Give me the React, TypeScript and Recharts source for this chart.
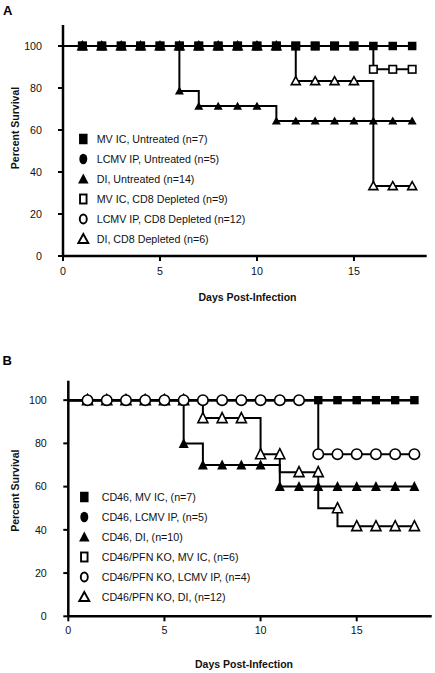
import { ComposedChart, Line, Scatter, XAxis, YAxis } from "recharts";

const FONT = '"Liberation Sans", Arial, sans-serif';

// observation days that carry a symbol
const days = [1, 2, 3, 4, 5, 6, 7, 8, 9, 10, 11, 12, 13, 14, 15, 16, 17, 18];
const xTicks = [0, 5, 10, 15];
const yTicks = [0, 20, 40, 60, 80, 100];

// ---- Panel A: percent survival at each day (symbols) ----
const aMvIcUntreated = [100, 100, 100, 100, 100, 100, 100, 100, 100, 100, 100, 100, 100, 100, 100, 100, 100, 100];
const aLcmvUntreated = [100, 100, 100, 100, 100, 100, 100, 100, 100, 100, 100, 100, 100, 100, 100, 100, 100, 100];
const aDiUntreated = [100, 100, 100, 100, 100, 78.6, 71.4, 71.4, 71.4, 71.4, 64.3, 64.3, 64.3, 64.3, 64.3, 64.3, 64.3, 64.3];
const aMvIcCd8 = [100, 100, 100, 100, 100, 100, 100, 100, 100, 100, 100, 100, 100, 100, 100, 88.9, 88.9, 88.9];
const aLcmvCd8 = [100, 100, 100, 100, 100, 100, 100, 100, 100, 100, 100, 100, 100, 100, 100, 100, 100, 100];
const aDiCd8 = [100, 100, 100, 100, 100, 100, 100, 100, 100, 100, 100, 83.3, 83.3, 83.3, 83.3, 33.3, 33.3, 33.3];

// Panel A: Kaplan-Meier breakpoints (day the curve steps to the value)
const aMvIcUntreatedStepDays = [0, 18];
const aMvIcUntreatedStepValues = [100, 100];
const aLcmvUntreatedStepDays = [0, 18];
const aLcmvUntreatedStepValues = [100, 100];
const aDiUntreatedStepDays = [0, 6, 7, 11, 18];
const aDiUntreatedStepValues = [100, 78.6, 71.4, 64.3, 64.3];
const aMvIcCd8StepDays = [0, 16, 18];
const aMvIcCd8StepValues = [100, 88.9, 88.9];
const aLcmvCd8StepDays = [0, 18];
const aLcmvCd8StepValues = [100, 100];
const aDiCd8StepDays = [0, 12, 16, 18];
const aDiCd8StepValues = [100, 83.3, 33.3, 33.3];

// ---- Panel B ----
const bMvIc = [100, 100, 100, 100, 100, 100, 100, 100, 100, 100, 100, 100, 100, 100, 100, 100, 100, 100];
const bLcmv = [100, 100, 100, 100, 100, 100, 100, 100, 100, 100, 100, 100, 100, 100, 100, 100, 100, 100];
const bDi = [100, 100, 100, 100, 100, 80, 70, 70, 70, 70, 60, 60, 60, 60, 60, 60, 60, 60];
const bKoMvIc = [100, 100, 100, 100, 100, 100, 100, 100, 100, 100, 100, 100, 100, 100, 100, 100, 100, 100];
const bKoLcmv = [100, 100, 100, 100, 100, 100, 100, 100, 100, 100, 100, 100, 75, 75, 75, 75, 75, 75];
const bKoDi = [100, 100, 100, 100, 100, 100, 91.7, 91.7, 91.7, 75, 75, 66.7, 66.7, 50, 41.7, 41.7, 41.7, 41.7];

const bMvIcStepDays = [0, 18];
const bMvIcStepValues = [100, 100];
const bLcmvStepDays = [0, 18];
const bLcmvStepValues = [100, 100];
const bDiStepDays = [0, 6, 7, 11, 18];
const bDiStepValues = [100, 80, 70, 60, 60];
const bKoMvIcStepDays = [0, 18];
const bKoMvIcStepValues = [100, 100];
const bKoLcmvStepDays = [0, 13, 18];
const bKoLcmvStepValues = [100, 75, 75];
const bKoDiStepDays = [0, 7, 10, 11, 13, 14, 18];
const bKoDiStepValues = [100, 91.7, 75, 66.7, 50, 41.7, 41.7];

type Kind = "square" | "circle" | "triangle";

interface Series {
  name: string;
  kind: Kind;
  filled: boolean;
  marks: number[];
  stepDays: number[];
  stepValues: number[];
}

// listed in legend order
const seriesA: Series[] = [
  { name: "MV IC, Untreated (n=7)", kind: "square", filled: true, marks: aMvIcUntreated, stepDays: aMvIcUntreatedStepDays, stepValues: aMvIcUntreatedStepValues },
  { name: "LCMV IP, Untreated (n=5)", kind: "circle", filled: true, marks: aLcmvUntreated, stepDays: aLcmvUntreatedStepDays, stepValues: aLcmvUntreatedStepValues },
  { name: "DI, Untreated (n=14)", kind: "triangle", filled: true, marks: aDiUntreated, stepDays: aDiUntreatedStepDays, stepValues: aDiUntreatedStepValues },
  { name: "MV IC, CD8 Depleted (n=9)", kind: "square", filled: false, marks: aMvIcCd8, stepDays: aMvIcCd8StepDays, stepValues: aMvIcCd8StepValues },
  { name: "LCMV IP, CD8 Depleted (n=12)", kind: "circle", filled: false, marks: aLcmvCd8, stepDays: aLcmvCd8StepDays, stepValues: aLcmvCd8StepValues },
  { name: "DI, CD8 Depleted (n=6)", kind: "triangle", filled: false, marks: aDiCd8, stepDays: aDiCd8StepDays, stepValues: aDiCd8StepValues },
];

const seriesB: Series[] = [
  { name: "CD46, MV IC, (n=7)", kind: "square", filled: true, marks: bMvIc, stepDays: bMvIcStepDays, stepValues: bMvIcStepValues },
  { name: "CD46, LCMV IP, (n=5)", kind: "circle", filled: true, marks: bLcmv, stepDays: bLcmvStepDays, stepValues: bLcmvStepValues },
  { name: "CD46, DI, (n=10)", kind: "triangle", filled: true, marks: bDi, stepDays: bDiStepDays, stepValues: bDiStepValues },
  { name: "CD46/PFN KO, MV IC, (n=6)", kind: "square", filled: false, marks: bKoMvIc, stepDays: bKoMvIcStepDays, stepValues: bKoMvIcStepValues },
  { name: "CD46/PFN KO, LCMV IP, (n=4)", kind: "circle", filled: false, marks: bKoLcmv, stepDays: bKoLcmvStepDays, stepValues: bKoLcmvStepValues },
  { name: "CD46/PFN KO, DI, (n=12)", kind: "triangle", filled: false, marks: bKoDi, stepDays: bKoDiStepDays, stepValues: bKoDiStepValues },
];

// symbol stacking order (first drawn at the bottom)
const drawOrderA = [4, 1, 3, 5, 2, 0];
const drawOrderB = [1, 3, 0, 2, 5, 4];

const toPoints = (xs: number[], ys: number[]) => xs.map((x, i) => ({ x, y: ys[i] }));

// symbol width/height in the plot, keyed by `${kind}-${filled}`
type Sizes = Record<string, [number, number]>;

function marker(kind: Kind, filled: boolean, cx: number, cy: number, w: number, h: number, sw: number) {
  const fill = filled ? "#000" : "#fff";
  const stroke = "#000";
  if (kind === "square") {
    return <rect x={cx - w / 2} y={cy - h / 2} width={w} height={h} fill={fill} stroke={stroke} strokeWidth={filled ? 0 : sw} />;
  }
  if (kind === "circle") {
    return <ellipse cx={cx} cy={cy} rx={w / 2} ry={h / 2} fill={fill} stroke={stroke} strokeWidth={filled ? 0 : sw} />;
  }
  const pts = `${cx},${cy - h * 0.55} ${cx + w / 2},${cy + h * 0.45} ${cx - w / 2},${cy + h * 0.45}`;
  return <polygon points={pts} fill={fill} stroke={stroke} strokeWidth={filled ? 0 : sw} strokeLinejoin="miter" />;
}

// all symbols of a panel in one table, in stacking order
const markTable = (series: Series[], order: number[]) =>
  order.flatMap((i) =>
    days.map((d, j) => ({ x: d, y: series[i].marks[j], kind: series[i].kind, filled: series[i].filled }))
  );

const shapeFor = (sizes: Sizes) => (props: any) => {
  const p = props.payload ?? props;
  const kind: Kind = p.kind;
  const [w, h] = sizes[`${kind}-${p.filled}`];
  return marker(kind, p.filled, props.cx, props.cy, w, h, 1.6);
};

interface PanelProps {
  series: Series[];
  order: number[];
  width: number;
  height: number;
  margin: { top: number; right: number; bottom: number; left: number };
  yAxisWidth: number;
  xMax: number;
  yMax: number;
  sizes: Sizes;
  xTickMargin: number;
  yTickMargin: number;
}

function Panel({ series, order, width, height, margin, yAxisWidth, xMax, yMax, sizes, xTickMargin, yTickMargin }: PanelProps) {
  const tick = { fill: "#111", fontSize: 10.7, fontFamily: FONT };
  return (
    <ComposedChart width={width} height={height} margin={margin}>
      <XAxis
        type="number"
        dataKey="x"
        domain={[0, xMax]}
        ticks={xTicks}
        interval={0}
        allowDataOverflow
        height={30}
        tickSize={5}
        tickMargin={xTickMargin}
        axisLine={{ stroke: "#000", strokeWidth: 2.5 }}
        tickLine={{ stroke: "#000", strokeWidth: 2 }}
        tick={tick}
      />
      <YAxis
        type="number"
        dataKey="y"
        domain={[0, yMax]}
        ticks={yTicks}
        interval={0}
        allowDataOverflow
        width={yAxisWidth}
        tickSize={5}
        tickMargin={yTickMargin}
        axisLine={{ stroke: "#000", strokeWidth: 2.5 }}
        tickLine={{ stroke: "#000", strokeWidth: 2 }}
        tick={tick}
      />
      {series.map((s) => (
        <Line
          key={"l" + s.name}
          data={toPoints(s.stepDays, s.stepValues)}
          dataKey="y"
          type="stepAfter"
          stroke="#000"
          strokeWidth={2}
          dot={false}
          activeDot={false}
          isAnimationActive={false}
        />
      ))}
      <Scatter data={markTable(series, order)} dataKey="y" shape={shapeFor(sizes)} isAnimationActive={false} />
    </ComposedChart>
  );
}

const legendSizes: Sizes = {
  "square-true": [8.5, 10.5],
  "circle-true": [8, 10.5],
  "triangle-true": [10.5, 10],
  "square-false": [6.5, 9],
  "circle-false": [7, 9],
  "triangle-false": [10, 9],
};

function Legend({ series, markerX, textX, top }: { series: Series[]; markerX: number; textX: number; top: number }) {
  return (
    <g>
      {series.map((s, i) => {
        const cy = top + i * 20;
        const [w, h] = legendSizes[`${s.kind}-${s.filled}`];
        return (
          <g key={s.name}>
            {marker(s.kind, s.filled, markerX, cy, w, h, 1.9)}
            <text x={textX} y={cy + 3.8} fontSize={10.7} fontFamily={FONT} fill="#111">
              {s.name}
            </text>
          </g>
        );
      })}
    </g>
  );
}

export default function App() {
  return (
    <div style={{ position: "absolute", left: 0, top: 0, width: 435, height: 673, background: "#fff" }}>
      <div style={{ position: "absolute", left: 0, top: 0 }}>
        <Panel
          series={seriesA}
          order={drawOrderA}
          width={435}
          height={336}
          margin={{ top: 25, right: 8.3, bottom: 50, left: 0 }}
          yAxisWidth={63}
          xMax={18.75}
          yMax={110}
          sizes={{
            "square-true": [8.5, 8.5],
            "circle-true": [6.5, 6.5],
            "triangle-true": [9, 8],
            "square-false": [7.5, 7.5],
            "circle-false": [6.5, 6.5],
            "triangle-false": [9, 8],
          }}
          xTickMargin={6}
          yTickMargin={16}
        />
      </div>
      <div style={{ position: "absolute", left: 0, top: 340 }}>
        <Panel
          series={seriesB}
          order={drawOrderB}
          width={435}
          height={333}
          margin={{ top: 40.7, right: 3.3, bottom: 26.7, left: 0 }}
          yAxisWidth={68.3}
          xMax={18.9}
          yMax={109}
          sizes={{
            "square-true": [8, 8],
            "circle-true": [6.5, 6.5],
            "triangle-true": [10, 10],
            "square-false": [6.5, 6.5],
            "circle-false": [10.4, 10.4],
            "triangle-false": [10, 10],
          }}
          xTickMargin={5.5}
          yTickMargin={16.5}
        />
      </div>
      <svg width={435} height={673} style={{ position: "absolute", left: 0, top: 0, pointerEvents: "none" }}>
        <text x={3} y={14.5} fontSize={13} fontWeight="bold" fontFamily={FONT}>A</text>
        <text x={2.5} y={365} fontSize={13} fontWeight="bold" fontFamily={FONT}>B</text>
        <text transform="translate(18.8,128) rotate(-90)" textAnchor="middle" fontSize={10.5} fontWeight="bold" fontFamily={FONT} fill="#111">
          Percent Survival
        </text>
        <text transform="translate(18.8,490.7) rotate(-90)" textAnchor="middle" fontSize={10.5} fontWeight="bold" fontFamily={FONT} fill="#111">
          Percent Survival
        </text>
        <text x={247.5} y={300.6} textAnchor="middle" fontSize={10.5} fontWeight="bold" fontFamily={FONT} fill="#111">
          Days Post-Infection
        </text>
        <text x={244} y={667.5} textAnchor="middle" fontSize={10.5} fontWeight="bold" fontFamily={FONT} fill="#111">
          Days Post-Infection
        </text>
        <Legend series={seriesA} markerX={83.3} textX={96.7} top={139} />
        <Legend series={seriesB} markerX={84.3} textX={101.7} top={497} />
      </svg>
    </div>
  );
}
